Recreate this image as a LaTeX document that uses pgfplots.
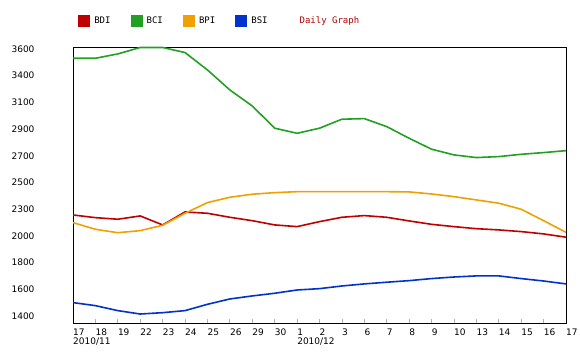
\documentclass[border=0pt]{standalone}
\usepackage{pgfplots}
\pgfplotsset{compat=1.18}
\usepackage{pgfplotstable}
\usepackage{fontspec}
\setmainfont{DejaVu Sans}
\newfontfamily\legfont{DejaVu Sans Mono}
\definecolor{cBDI}{HTML}{C00000}
\definecolor{cBCI}{HTML}{22A022}
\definecolor{cBPI}{HTML}{F0A000}
\definecolor{cBSI}{HTML}{0033CC}
\definecolor{dred}{HTML}{B00000}
\pgfplotstableread{
i BDI BCI BPI BSI
0 2232 3523 2169 1510
1 2210 3523 2114 1485
2 2197 3559 2086 1444
3 2224 3612 2103 1416
4 2150 3612 2147 1427
5 2257 3570 2246 1444
6 2246 3427 2334 1496
7 2213 3262 2378 1540
8 2185 3130 2403 1565
9 2150 2947 2416 1587
10 2136 2905 2424 1614
11 2177 2947 2424 1625
12 2213 3021 2424 1647
13 2227 3026 2424 1664
14 2213 2960 2424 1678
15 2183 2864 2422 1691
16 2155 2774 2405 1708
17 2136 2727 2383 1721
18 2119 2705 2356 1730
19 2109 2713 2329 1730
20 2095 2732 2279 1708
21 2076 2746 2185 1688
22 2049 2762 2089 1664
}\data
\begin{document}
\begin{tikzpicture}
\useasboundingbox (0,0) rectangle (580pt,355pt);
\begin{axis}[
  at={(73pt,32pt)}, anchor=south west,
  scale only axis, width=493pt, height=276pt,
  xmin=0, xmax=22, ymin=1342, ymax=3616,
  axis line style={black, line width=0.8pt},
  xtick={0,...,22},
  xticklabels={{17\\\rlap{2010/11}},18,19,22,23,24,25,26,29,30,{1\\\rlap{2010/12}},2,3,6,7,8,9,10,13,14,15,16,17},
  xticklabel style={anchor=north west, align=left, inner sep=0pt, yshift=-6pt,
    font=\fontsize{9}{8.8}\selectfont},
  xtick pos=bottom, tick align=inside,
  xtick style={gray!60, line width=0.8pt},
  major tick length=4pt,
  ytick={1400,1620,1840,2060,2280,2500,2720,2940,3160,3380,3600},
  yticklabels={1400,1600,1800,2000,2300,2500,2700,2900,3100,3400,3600},
  ytick style={draw=none},
  yticklabel style={anchor=east, xshift=-35pt, font=\fontsize{9}{9}\selectfont},
  /pgf/number format/assume math mode=true,
  legend columns=-1,
  legend style={draw=none, fill=none, at={(0,1)}, anchor=west, xshift=5pt, yshift=26pt,
    font=\legfont\fontsize{9}{9}\selectfont, inner sep=0pt,
    nodes={inner sep=0pt, anchor=west},
    /tikz/every odd column/.append style={column sep=4pt},
    /tikz/every even column/.append style={column sep=20pt}},
  legend image code/.code={\fill[#1] (0pt,-5pt) rectangle (10.5pt,5pt);},
  every axis plot/.append style={line width=1.6pt},
]
\addplot[cBDI] table[x=i,y=BDI] {\data};
\addlegendentry{BDI}
\addplot[cBCI] table[x=i,y=BCI] {\data};
\addlegendentry{BCI}
\addplot[cBPI] table[x=i,y=BPI] {\data};
\addlegendentry{BPI}
\addplot[cBSI] table[x=i,y=BSI] {\data};
\addlegendentry{BSI}
\addlegendimage{empty legend}
\addlegendentry{\hspace{8pt}\textcolor{dred}{Daily Graph}}
\end{axis}
\end{tikzpicture}
\end{document}
